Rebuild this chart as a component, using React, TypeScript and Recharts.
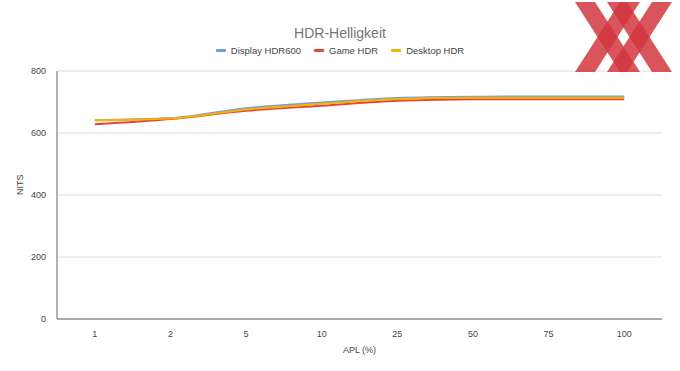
import { LineChart, Line, XAxis, YAxis, CartesianGrid } from "recharts";

const aplLevels = ["1", "2", "5", "10", "25", "50", "75", "100"];
const displayHdr600 = [641, 648, 680, 698, 713, 717, 718, 718];
const gameHdr = [628, 645, 672, 688, 704, 709, 709, 709];
const desktopHdr = [641, 647, 676, 694, 710, 714, 714, 714];
const yTicks = [0, 200, 400, 600, 800];

const series = [
  { key: "display", name: "Display HDR600", color: "#6d9eeb" },
  { key: "game", name: "Game HDR", color: "#ea4335" },
  { key: "desktop", name: "Desktop HDR", color: "#f4b400" },
];

const data = aplLevels.map((apl, i) => ({
  apl,
  display: displayHdr600[i],
  game: gameHdr[i],
  desktop: desktopHdr[i],
}));

const font = "Arial, 'Liberation Sans', sans-serif";

function LegendRow() {
  return (
    <div style={{ position: "absolute", left: 0, top: 45, width: 680, display: "flex", justifyContent: "center", gap: 13, fontSize: 9.5, color: "#444" }}>
      {series.map((s) => (
        <span key={s.key} style={{ display: "flex", alignItems: "center" }}>
          <span style={{ width: 10, height: 3, background: s.color, borderRadius: 1, marginRight: 5 }} />
          {s.name}
        </span>
      ))}
    </div>
  );
}

function Logo() {
  const c = "#d1373f";
  const bar = (x1: number, x2: number) => (
    <polygon points={`${x1},2 ${x1 + 20},2 ${x2 + 20},72 ${x2},72`} fill={c} fillOpacity={0.85} />
  );
  return (
    <svg width={680} height={80} style={{ position: "absolute", left: 0, top: 0, pointerEvents: "none" }}>
      {bar(575, 620)}
      {bar(620, 575)}
      {bar(607, 652)}
      {bar(652, 607)}
    </svg>
  );
}

export default function App() {
  return (
    <div style={{ position: "absolute", left: 0, top: 0, width: 680, height: 371, background: "#fff", fontFamily: font }}>
      <div style={{ position: "absolute", left: 0, top: 25, width: 680, textAlign: "center", fontSize: 14, color: "#757575" }}>
        HDR-Helligkeit
      </div>
      <LegendRow />
      <LineChart width={680} height={371} data={data} margin={{ top: 71, right: 18, bottom: 0, left: 0 }}>
        <CartesianGrid vertical={false} stroke="#dcdcdc" />
        <XAxis
          dataKey="apl"
          padding={{ left: 37.8, right: 37.8 }}
          tickLine={false}
          stroke="#666"
          tick={{ fontSize: 9, fill: "#444" }}
          tickMargin={6}
          height={52}
          label={{ value: "APL (%)", position: "insideBottom", offset: 18, fontSize: 9, fill: "#444" }}
        />
        <YAxis
          domain={[0, 800]}
          ticks={yTicks}
          tickLine={false}
          stroke="#666"
          tick={{ fontSize: 9, fill: "#444" }}
          tickMargin={5}
          width={57}
          label={{ value: "NITS", angle: -90, position: "insideLeft", offset: 20, fontSize: 9, fill: "#444" }}
        />
        {series.map((s) => (
          <Line
            key={s.key}
            type="monotone"
            dataKey={s.key}
            name={s.name}
            stroke={s.color}
            strokeWidth={2}
            dot={false}
            isAnimationActive={false}
          />
        ))}
      </LineChart>
      <Logo />
    </div>
  );
}
